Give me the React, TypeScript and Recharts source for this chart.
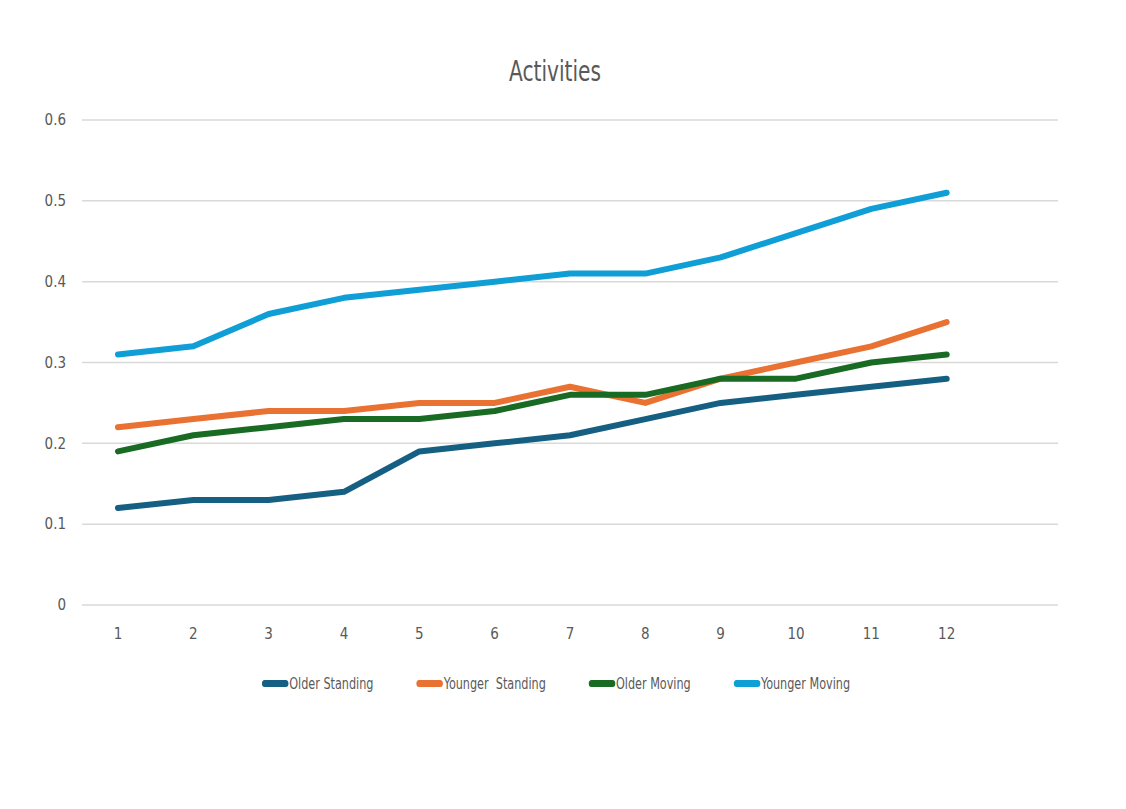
import { LineChart, Line, XAxis, YAxis, CartesianGrid } from 'recharts';

// 13th slot is an empty category (Excel left a blank row)
const categories = ['1', '2', '3', '4', '5', '6', '7', '8', '9', '10', '11', '12', ''];
const olderStanding = [0.12, 0.13, 0.13, 0.14, 0.19, 0.2, 0.21, 0.23, 0.25, 0.26, 0.27, 0.28];
const youngerStanding = [0.22, 0.23, 0.24, 0.24, 0.25, 0.25, 0.27, 0.25, 0.28, 0.3, 0.32, 0.35];
const olderMoving = [0.19, 0.21, 0.22, 0.23, 0.23, 0.24, 0.26, 0.26, 0.28, 0.28, 0.3, 0.31];
const youngerMoving = [0.31, 0.32, 0.36, 0.38, 0.39, 0.4, 0.41, 0.41, 0.43, 0.46, 0.49, 0.51];
const yTicks = [0, 0.1, 0.2, 0.3, 0.4, 0.5, 0.6];

const series = [
  { key: 'olderStanding', name: 'Older Standing', color: '#156082', values: olderStanding },
  { key: 'youngerStanding', name: 'Younger  Standing', color: '#E97132', values: youngerStanding },
  { key: 'olderMoving', name: 'Older Moving', color: '#196B24', values: olderMoving },
  { key: 'youngerMoving', name: 'Younger Moving', color: '#0F9ED5', values: youngerMoving },
];

const data = categories.map((cat, i) => {
  const row: Record<string, string | number | null> = { name: cat };
  series.forEach((s) => {
    row[s.key] = i < s.values.length ? s.values[i] : null;
  });
  return row;
});

const FONT = '"Liberation Sans Narrow", "DejaVu Sans Condensed", Roboto, sans-serif';
const TEXT = '#595959';

export default function App() {
  return (
    <div style={{ position: 'relative', width: 1110, height: 780, fontFamily: FONT }}>
      <div
        style={{
          position: 'absolute',
          top: 48,
          left: 0,
          width: 1094,
          textAlign: 'center',
          fontSize: 28,
          lineHeight: '32px',
          color: TEXT,
          transform: 'scaleX(0.8)',
        }}
      >
        Activities
      </div>

      <LineChart
        width={1110}
        height={700}
        data={data}
        margin={{ top: 112, right: 60, left: 0, bottom: 73 }}
      >
        <CartesianGrid vertical={false} stroke="#d9d9d9" strokeWidth={1.5} />
        <XAxis
          dataKey="name"
          interval={0}
          padding={{ left: 36, right: 36 }}
          tickLine={false}
          axisLine={false}
          tickMargin={17}
          tick={{ fill: TEXT, fontSize: 15, fontFamily: FONT }}
        />
        <YAxis
          width={74}
          domain={[0, 0.6]}
          ticks={yTicks}
          tickLine={false}
          axisLine={false}
          tickMargin={10}
          tick={{ fill: TEXT, fontSize: 15, fontFamily: FONT }}
        />
        {series.map((s) => (
          <Line
            key={s.key}
            type="linear"
            dataKey={s.key}
            name={s.name}
            stroke={s.color}
            strokeWidth={6}
            strokeLinecap="round"
            strokeLinejoin="round"
            dot={false}
            activeDot={false}
            isAnimationActive={false}
          />
        ))}
      </LineChart>

      <div
        style={{
          position: 'absolute',
          top: 666,
          left: 0,
          width: 1096,
          display: 'flex',
          justifyContent: 'center',
          gap: 55,
          fontSize: 16,
          color: TEXT,
          transform: 'scaleX(0.78)',
        }}
      >
        {series.map((s) => (
          <div key={s.key} style={{ display: 'flex', alignItems: 'center', whiteSpace: 'pre' }}>
            <span
              style={{
                display: 'inline-block',
                width: 34,
                height: 7,
                borderRadius: 4,
                background: s.color,
                marginRight: 1,
              }}
            />
            <span>{s.name}</span>
          </div>
        ))}
      </div>
    </div>
  );
}
